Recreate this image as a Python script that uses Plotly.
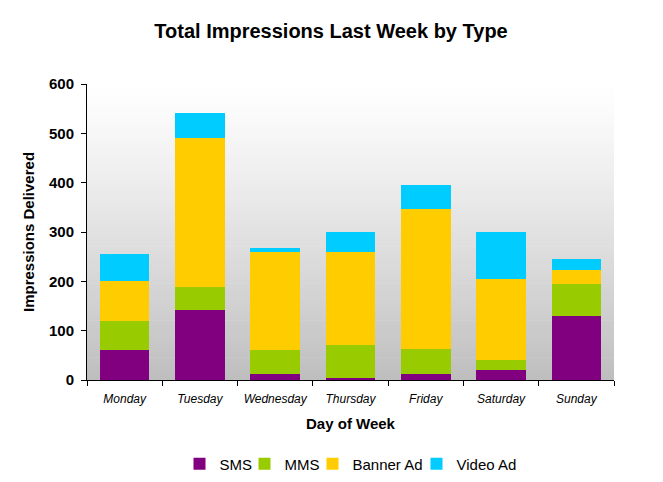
import plotly.graph_objects as go

days = ["Monday", "Tuesday", "Wednesday", "Thursday", "Friday", "Saturday", "Sunday"]
sms = [60, 142, 12, 4, 12, 20, 129]
mms = [60, 46, 49, 67, 51, 20, 65]
banner = [80, 302, 198, 188, 283, 164, 28]
video = [55, 52, 8, 42, 50, 97, 23]

series = [("SMS", sms, "#800080", 20), ("MMS", mms, "#99CC00", 23),
          ("Banner Ad", banner, "#FFCC00", 59), ("Video Ad", video, "#00CCFF", None)]

fig = go.Figure()
for name, vals, col, lw in series:
    fig.add_trace(go.Bar(x=days, y=vals, name=name, legendwidth=lw,
                         marker=dict(color=col, line=dict(width=0))))

# gradient background of plot area
shapes = []
n = 80
for i in range(n):
    t0 = i / n
    t1 = (i + 1) / n
    tm = (t0 + t1) / 2  # 0 bottom .. 1 top
    d = 1 - tm
    v = int(round(255 - 65 * (d ** 1.15)))
    shapes.append(dict(type="rect", xref="x domain", yref="y domain", x0=0, x1=1,
                       y0=t0, y1=t1 + 0.002, fillcolor=f"rgb({v},{v},{v})",
                       line=dict(width=0), layer="below"))

# page body has an 8px margin, so the figure is sized/offset to compensate
W, H = 655, 474
fig.update_layout(
    barmode="stack",
    bargap=0.34,
    width=W, height=H,
    margin=dict(l=79, r=49, t=76, b=102, autoexpand=False),
    paper_bgcolor="white",
    plot_bgcolor="rgba(0,0,0,0)",
    shapes=shapes,
    font=dict(family="Liberation Sans, Arial", color="black"),
    title=dict(text="<b>Total Impressions Last Week by Type</b>", x=(331 - 8) / W, xanchor="center",
               y=1 - 23 / H, yanchor="middle", font=dict(size=20, color="black")),
    xaxis=dict(
        title=dict(text="<b>Day of Week</b>", font=dict(size=15), standoff=13),
        showline=True, linecolor="black", linewidth=1,
        ticks="outside", ticklen=5, tickcolor="black", tickson="boundaries",
        tickfont=dict(size=12, style="italic"), ticklabelstandoff=8,
        showgrid=False, automargin=False,
    ),
    yaxis=dict(
        title=dict(text="<b>Impressions Delivered</b>", font=dict(size=15), standoff=10),
        range=[0, 600], tickvals=[0, 100, 200, 300, 400, 500, 600],
        ticktext=["<b>0</b>", "<b>100</b>", "<b>200</b>", "<b>300</b>", "<b>400</b>", "<b>500</b>", "<b>600</b>"],
        showline=True, linecolor="black", linewidth=1,
        ticks="outside", ticklen=5, tickcolor="black", ticklabelstandoff=4,
        tickfont=dict(size=15), showgrid=False, zeroline=False, automargin=False,
    ),
    legend=dict(orientation="h", x=0.5, xanchor="center", y=-0.284, yanchor="middle",
                font=dict(size=15), traceorder="normal", itemwidth=30),
)

fig.write_html("out.html")
